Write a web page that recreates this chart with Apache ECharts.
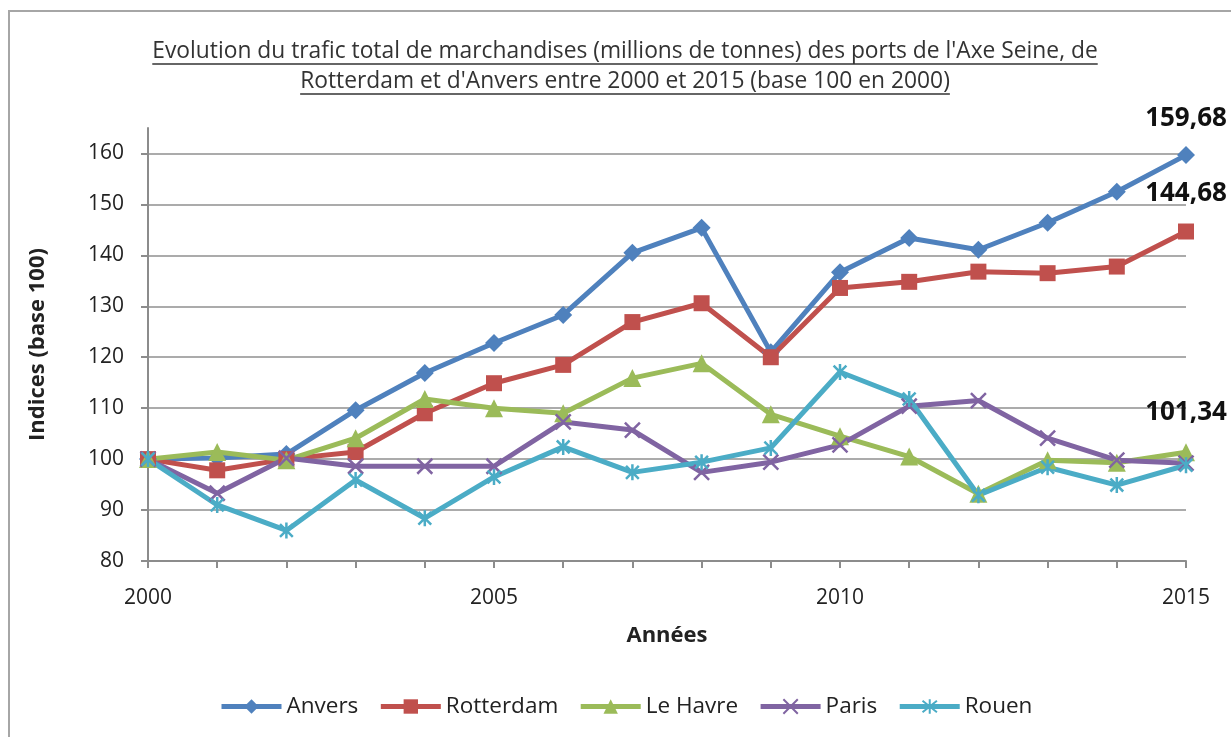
<!DOCTYPE html>
<html>
<head>
<meta charset="utf-8">
<script src="https://cdn.jsdelivr.net/npm/echarts@6/dist/echarts.min.js"></script>
<style>
html, body { margin: 0; padding: 0; background: #fff; }
#main { width: 1231px; height: 737px; }
</style>
</head>
<body>
<div id="main"></div>
<script>
// données (indices base 100 en 2000)
var years = ['2000', '2001', '2002', '2003', '2004', '2005', '2006', '2007',
	'2008', '2009', '2010', '2011', '2012', '2013', '2014', '2015'];
var anvers = [100, 100.2, 101, 109.6, 116.9, 122.8, 128.3, 140.5, 145.4, 121, 136.7, 143.4, 141.1, 146.4, 152.5, 159.68];
var rotterdam = [100, 97.8, 100, 101.4, 109, 114.9, 118.5, 126.9, 130.6, 120, 133.6, 134.8, 136.8, 136.5, 137.8, 144.68];
var leHavre = [100, 101.4, 99.8, 104.1, 111.8, 110, 109, 115.9, 118.8, 108.8, 104.5, 100.5, 93.2, 99.8, 99.3, 101.34];
var paris = [100, 93.3, 100.2, 98.6, 98.6, 98.6, 107.3, 105.7, 97.4, 99.4, 102.8, 110.4, 111.5, 104.1, 99.8, 99.2];
var rouen = [100, 91, 86, 95.9, 88.4, 96.5, 102.4, 97.4, 99.4, 102.2, 117.1, 111.8, 92.9, 98.4, 94.9, 98.8];
var yTicks = [80, 90, 100, 110, 120, 130, 140, 150, 160];

var seriesNames = ['Anvers', 'Rotterdam', 'Le Havre', 'Paris', 'Rouen'];
var seriesData = [anvers, rotterdam, leHavre, paris, rouen];
var colors = ['#4F81BD', '#C0504D', '#9BBB59', '#8064A2', '#4BACC6'];
var symbols = ['diamond', 'rect', 'triangle',
	'path://M0,0L10,10M10,0L0,10',
	'path://M1,1L9,9M9,1L1,9M5,0L5,10'];
var symbolSizes = [18, 16, 18, 15, 16];
var labelDist = [15, 17, 18, 0, 0]; // 0 = pas d'étiquette

var FONT = '"Open Sans", "Liberation Sans", sans-serif';
var titleL1 = "Evolution du trafic total de marchandises (millions de tonnes) des ports de l'Axe Seine, de";
var titleL2 = "Rotterdam et d'Anvers entre 2000 et 2015 (base 100 en 2000)";
var titleSize = 22.8;

function fmtFr(v) {
	return v.toFixed(2).replace('.', ',');
}

// largeur du texte pour le soulignement du titre
function textWidth(str) {
	var ctx = document.createElement('canvas').getContext('2d');
	ctx.font = titleSize + 'px ' + FONT;
	return ctx.measureText(str).width;
}

var myChart = echarts.init(document.getElementById('main'));

var series = [];
for (var i = 0; i < seriesNames.length; i++) {
	var isPath = symbols[i].indexOf('path://') === 0;
	series.push({
		name: seriesNames[i],
		type: 'line',
		data: seriesData[i],
		symbol: symbols[i],
		symbolSize: symbolSizes[i],
		symbolKeepAspect: true,
		lineStyle: { width: 5, color: colors[i] },
		itemStyle: {
			color: colors[i],
			borderColor: colors[i],
			borderWidth: isPath ? 2.5 : 0
		},
		label: {
			show: labelDist[i] > 0,
			position: 'top',
			distance: labelDist[i],
			fontFamily: FONT,
			fontSize: 26,
			fontWeight: 'bold',
			color: '#111',
			formatter: function (p) {
				return p.dataIndex === years.length - 1 ? fmtFr(p.value) : '';
			}
		},
		emphasis: { disabled: true }
	});
}

var cx = 625;
var w1 = textWidth(titleL1), w2 = textWidth(titleL2);

var option = {
	animation: false,
	backgroundColor: '#fff',
	color: colors,
	title: {
		text: titleL1 + '\n' + titleL2,
		left: cx,
		top: 37,
		textAlign: 'center',
		padding: 0,
		textStyle: {
			fontFamily: FONT,
			fontSize: titleSize,
			fontWeight: 'normal',
			color: '#333',
			lineHeight: 30
		}
	},
	graphic: [
		{ type: 'rect', z: -10, shape: { x: 9, y: 11, width: 1260, height: 760 },
			style: { fill: 'none', stroke: '#a6a6a6', lineWidth: 2 } },
		{ type: 'line', shape: { x1: cx - w1 / 2, y1: 64, x2: cx + w1 / 2, y2: 64 },
			style: { stroke: '#333', lineWidth: 1.5 } },
		{ type: 'line', shape: { x1: cx - w2 / 2, y1: 94, x2: cx + w2 / 2, y2: 94 },
			style: { stroke: '#333', lineWidth: 1.5 } }
	],
	legend: {
		data: seriesNames,
		left: 214,
		top: 690,
		itemWidth: 60,
		itemHeight: 18,
		itemGap: 20,
		lineStyle: { width: 5 },
		textStyle: { fontFamily: FONT, fontSize: 22.5, color: '#222' }
	},
	grid: { left: 148, right: 45, top: 128, bottom: 176, containLabel: false },
	xAxis: {
		type: 'category',
		data: years,
		boundaryGap: false,
		name: 'Années',
		nameLocation: 'middle',
		nameGap: 64,
		nameTextStyle: { fontFamily: FONT, fontSize: 22, fontWeight: 'bold', color: '#222' },
		axisLine: { lineStyle: { color: '#8c8c8c', width: 2 } },
		axisTick: { show: true, interval: 0, length: 7, lineStyle: { color: '#8c8c8c', width: 2 } },
		axisLabel: { interval: 4, margin: 27, fontFamily: FONT, fontSize: 21, color: '#222' },
		splitLine: { show: false }
	},
	yAxis: {
		type: 'value',
		min: 80,
		max: 165,
		interval: 10,
		name: 'Indices (base 100)',
		nameLocation: 'middle',
		nameRotate: 90,
		nameGap: 99,
		nameTextStyle: { fontFamily: FONT, fontSize: 22, fontWeight: 'bold', color: '#222' },
		axisLine: { show: true, lineStyle: { color: '#8c8c8c', width: 2 } },
		axisTick: { show: true, length: 7, customValues: yTicks, lineStyle: { color: '#8c8c8c', width: 2 } },
		axisLabel: { customValues: yTicks, margin: 24, fontFamily: FONT, fontSize: 21, color: '#222' },
		splitLine: { show: true, lineStyle: { color: '#8f8f8f', width: 1.5 } }
	},
	series: series
};

myChart.setOption(option, true);
</script>
</body>
</html>
